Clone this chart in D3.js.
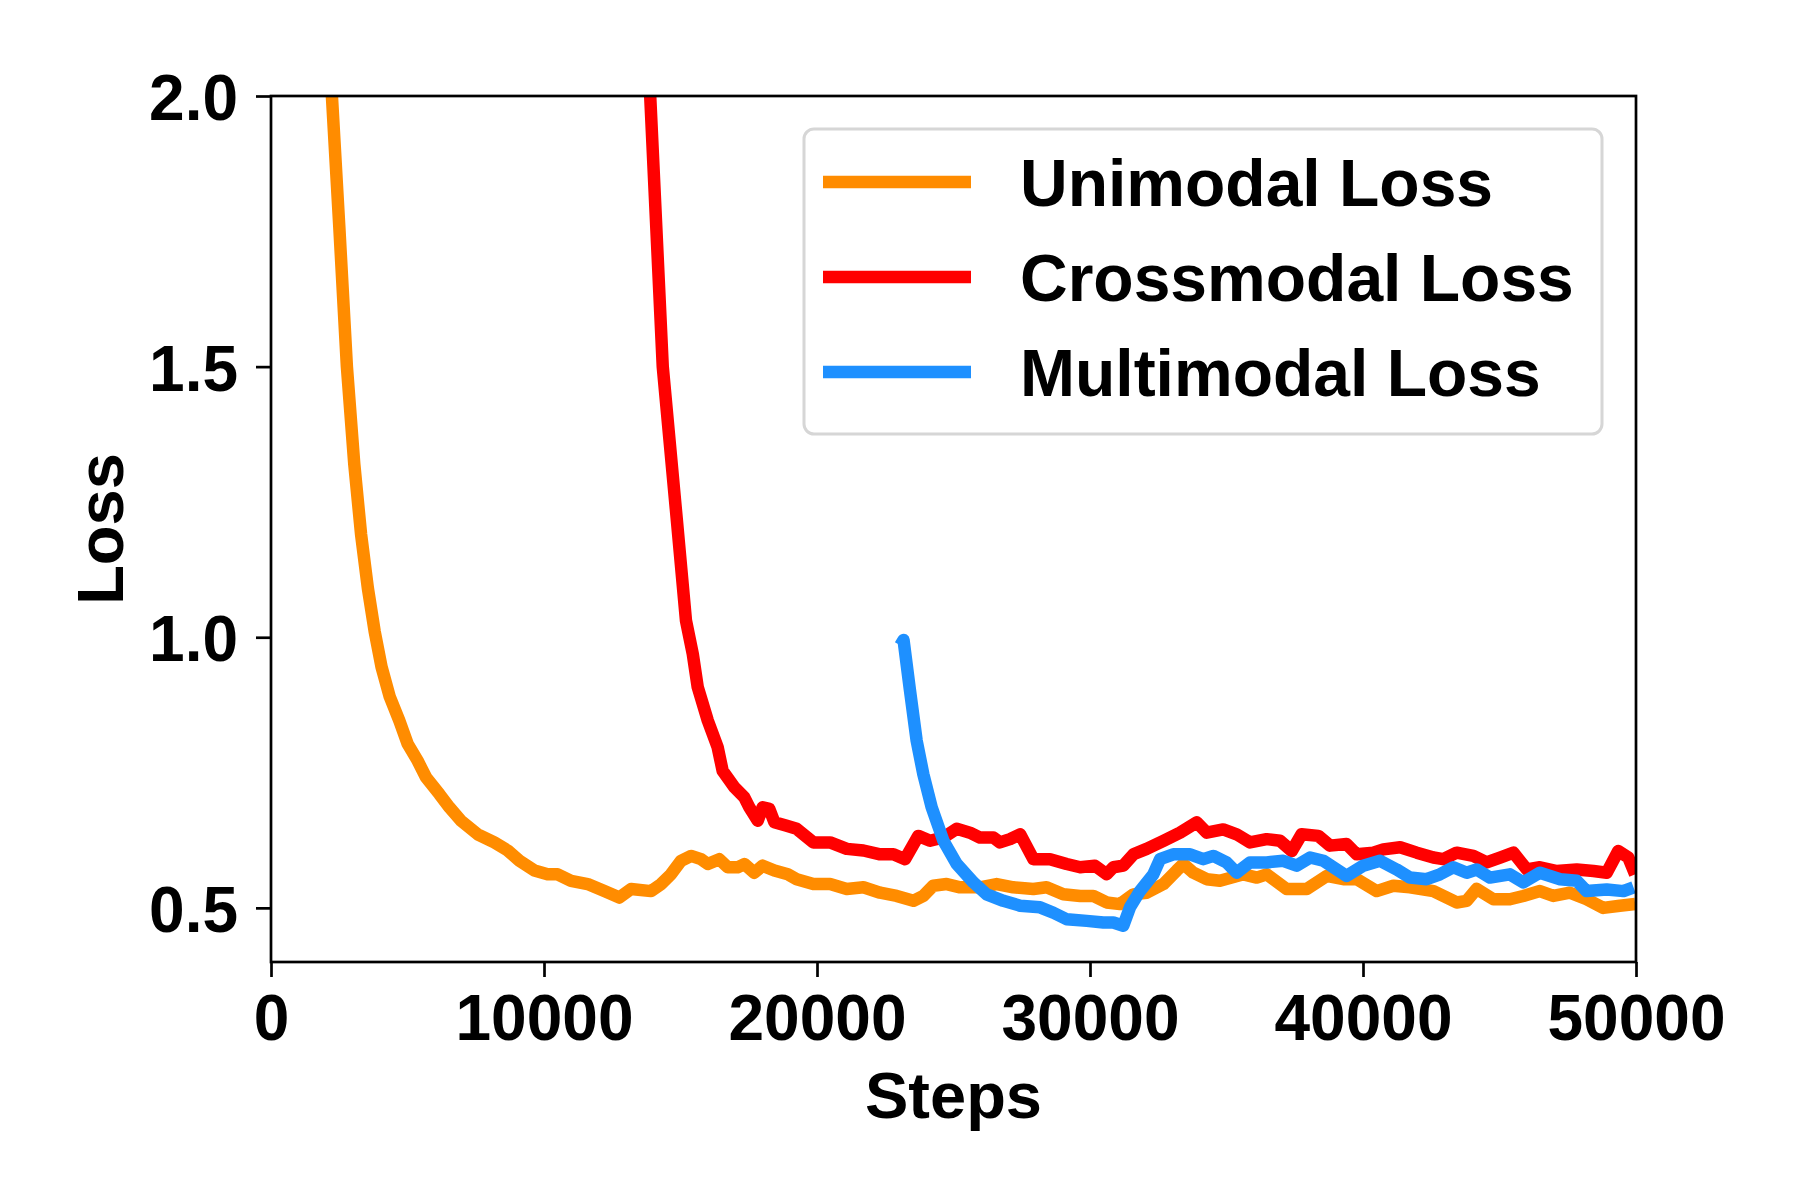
<!DOCTYPE html>
<html>
<head>
<meta charset="utf-8">
<script src="https://cdn.jsdelivr.net/npm/d3@7"></script>
<style>
  html, body { margin: 0; padding: 0; background: #fff; }
  svg text { font-family: "Liberation Sans", Arial, Helvetica, sans-serif; font-weight: bold; fill: #000; }
</style>
</head>
<body>
<svg id="chart" width="1800" height="1200"></svg>
<script>
// Loss curves
const unimodalSteps = [1950, 2231, 2500, 2780, 3050, 3300, 3550, 3800, 4050, 4350, 4700, 5006, 5370, 5680, 6170, 6530, 6960, 7570, 8180, 8670, 9100, 9650, 10130, 10500, 10990, 11600, 12210, 12760, 13190, 13920, 14290, 14650, 15020, 15390, 15750, 16000, 16420, 16730, 17090, 17340, 17700, 18010, 18440, 18930, 19255, 19865, 20480, 21090, 21700, 22310, 22920, 23530, 23895, 24260, 24750, 25240, 25970, 26580, 27190, 27925, 28410, 29020, 29640, 30120, 30610, 31100, 31590, 32075, 32690, 33175, 33420, 33785, 34275, 34760, 35620, 36110, 36470, 37200, 37940, 38670, 39280, 39770, 40500, 41110, 41720, 42580, 43430, 43800, 44160, 44775, 45380, 45870, 46480, 46970, 47580, 48190, 48800, 49410, 49970];
const unimodalLoss = [2.30, 2.0, 1.76, 1.5, 1.32, 1.19, 1.09, 1.01, 0.945, 0.89, 0.846, 0.803, 0.772, 0.741, 0.710, 0.686, 0.661, 0.636, 0.621, 0.606, 0.587, 0.569, 0.562, 0.562, 0.550, 0.544, 0.531, 0.519, 0.535, 0.531, 0.544, 0.562, 0.587, 0.596, 0.590, 0.581, 0.590, 0.575, 0.575, 0.581, 0.565, 0.578, 0.569, 0.562, 0.553, 0.544, 0.544, 0.535, 0.538, 0.528, 0.522, 0.513, 0.522, 0.541, 0.544, 0.538, 0.538, 0.544, 0.538, 0.535, 0.538, 0.525, 0.522, 0.522, 0.510, 0.507, 0.525, 0.528, 0.544, 0.569, 0.581, 0.565, 0.553, 0.550, 0.562, 0.556, 0.562, 0.535, 0.535, 0.559, 0.553, 0.553, 0.531, 0.541, 0.538, 0.531, 0.510, 0.513, 0.535, 0.516, 0.516, 0.522, 0.531, 0.522, 0.528, 0.516, 0.500, 0.504, 0.507];

const crossmodalSteps = [13700, 13890, 14350, 14860, 15200, 15450, 15630, 16000, 16360, 16545, 16970, 17340, 17520, 17830, 18010, 18250, 18440, 18860, 19255, 19865, 20480, 21090, 21700, 22310, 22800, 23225, 23710, 24140, 24630, 25120, 25600, 25970, 26460, 26700, 27070, 27440, 27925, 28535, 29145, 29640, 30180, 30610, 30855, 31220, 31590, 32075, 32690, 33300, 33910, 34275, 34880, 35370, 35860, 36470, 36960, 37390, 37750, 38365, 38790, 39400, 39770, 40380, 40745, 41360, 41970, 42580, 42940, 43430, 44040, 44530, 45020, 45510, 46000, 46480, 47100, 47830, 48440, 48930, 49350, 49720, 49970];
const crossmodalLoss = [2.10, 2.0, 1.5, 1.22, 1.031, 0.969, 0.908, 0.846, 0.797, 0.753, 0.723, 0.704, 0.686, 0.661, 0.686, 0.683, 0.658, 0.652, 0.646, 0.621, 0.621, 0.609, 0.606, 0.599, 0.599, 0.590, 0.633, 0.624, 0.630, 0.646, 0.639, 0.630, 0.630, 0.621, 0.627, 0.636, 0.590, 0.590, 0.581, 0.575, 0.578, 0.562, 0.575, 0.578, 0.599, 0.609, 0.624, 0.639, 0.658, 0.639, 0.645, 0.636, 0.621, 0.627, 0.624, 0.605, 0.636, 0.633, 0.615, 0.618, 0.599, 0.602, 0.608, 0.612, 0.602, 0.593, 0.590, 0.602, 0.596, 0.584, 0.593, 0.602, 0.571, 0.575, 0.568, 0.571, 0.568, 0.565, 0.605, 0.593, 0.562];

const multimodalSteps = [23050, 23170, 23400, 23650, 23895, 24200, 24630, 25120, 25730, 26215, 26825, 27440, 28170, 28660, 29145, 29880, 30490, 30855, 31220, 31465, 31830, 32320, 32565, 33050, 33665, 34150, 34520, 35000, 35370, 35860, 36470, 37080, 37570, 38060, 38550, 39400, 40010, 40620, 41230, 41720, 42330, 42820, 43310, 43800, 44160, 44650, 45380, 45870, 46480, 47220, 47830, 48190, 48930, 49540, 49910];
const multimodalLoss = [0.985, 0.995, 0.904, 0.809, 0.747, 0.686, 0.624, 0.581, 0.547, 0.525, 0.513, 0.504, 0.501, 0.491, 0.479, 0.476, 0.473, 0.473, 0.467, 0.501, 0.531, 0.562, 0.590, 0.599, 0.599, 0.590, 0.596, 0.584, 0.565, 0.584, 0.584, 0.587, 0.578, 0.593, 0.587, 0.559, 0.578, 0.587, 0.571, 0.556, 0.553, 0.562, 0.575, 0.565, 0.571, 0.556, 0.562, 0.547, 0.565, 0.553, 0.550, 0.531, 0.534, 0.531, 0.538];

const seriesNames = ['Unimodal Loss', 'Crossmodal Loss', 'Multimodal Loss'];
const seriesColors = ['#ff8c00', '#ff0000', '#1e90ff'];
const xTicks = [0, 10000, 20000, 30000, 40000, 50000];
const yTicks = [0.5, 1.0, 1.5, 2.0];

(function() {
  'use strict';

  const svg = d3.select('#chart');
  const left = 271, right = 1636, top = 96, bottom = 962;

  const x = d3.scaleLinear().domain([0, 50000]).range([left, right]);
  const y = d3.scaleLinear().domain([0.4, 2.0]).range([bottom, top]);

  svg.append('rect').attr('width', 1800).attr('height', 1200).attr('fill', '#fff');

  // Clip lines to the axes box
  svg.append('defs').append('clipPath').attr('id', 'plot-clip')
    .append('rect')
    .attr('x', left).attr('y', top)
    .attr('width', right - left).attr('height', bottom - top);

  const series = [
    { steps: unimodalSteps, loss: unimodalLoss },
    { steps: crossmodalSteps, loss: crossmodalLoss },
    { steps: multimodalSteps, loss: multimodalLoss }
  ];

  const line = d3.line()
    .x(d => x(d[0]))
    .y(d => y(d[1]));

  const plot = svg.append('g').attr('clip-path', 'url(#plot-clip)');
  series.forEach((s, i) => {
    const pts = s.steps.map((st, j) => [st, s.loss[j]]);
    plot.append('path')
      .attr('d', line(pts))
      .attr('fill', 'none')
      .attr('stroke', seriesColors[i])
      .attr('stroke-width', 12.5)
      .attr('stroke-linejoin', 'round')
      .attr('stroke-linecap', 'butt');
  });

  // Axes
  const xAxis = d3.axisBottom(x).tickValues(xTicks).tickFormat(d3.format('d')).tickSize(15).tickPadding(20);
  const yAxis = d3.axisLeft(y).tickValues(yTicks).tickFormat(d3.format('.1f')).tickSize(15).tickPadding(18);

  const gx = svg.append('g').attr('transform', `translate(0,${bottom})`).call(xAxis);
  const gy = svg.append('g').attr('transform', `translate(${left},0)`).call(yAxis);

  [gx, gy].forEach(g => {
    g.select('.domain').remove();
    g.selectAll('.tick line').attr('stroke', '#000').attr('stroke-width', 2.7);
    g.selectAll('.tick text').attr('font-size', 64).attr('fill', '#000');
  });
  gx.selectAll('.tick text').attr('dy', null).attr('y', null)
    .attr('transform', 'translate(0,78)');
  gy.selectAll('.tick text').attr('dy', '0.37em');

  // Frame (all four spines)
  svg.append('rect')
    .attr('x', left).attr('y', top)
    .attr('width', right - left).attr('height', bottom - top)
    .attr('fill', 'none')
    .attr('stroke', '#000')
    .attr('stroke-width', 2.7);

  // Axis labels
  svg.append('text')
    .attr('x', (left + right) / 2)
    .attr('y', 1118)
    .attr('text-anchor', 'middle')
    .attr('font-size', 65)
    .text('Steps');

  svg.append('text')
    .attr('transform', `translate(123,${(top + bottom) / 2}) rotate(-90)`)
    .attr('text-anchor', 'middle')
    .attr('font-size', 65)
    .text('Loss');

  // Legend
  const legend = svg.append('g');
  legend.append('rect')
    .attr('x', 804).attr('y', 129)
    .attr('width', 798).attr('height', 305)
    .attr('rx', 10).attr('ry', 10)
    .attr('fill', '#fff')
    .attr('stroke', '#d6d6d6')
    .attr('stroke-width', 3);

  seriesNames.forEach((name, i) => {
    const ly = 182 + i * 95;
    legend.append('line')
      .attr('x1', 823).attr('x2', 971)
      .attr('y1', ly).attr('y2', ly)
      .attr('stroke', seriesColors[i])
      .attr('stroke-width', 12.5);
    legend.append('text')
      .attr('x', 1020)
      .attr('y', ly + 23.5)
      .attr('font-size', 66)
      .text(name);
  });
})();
</script>
</body>
</html>
